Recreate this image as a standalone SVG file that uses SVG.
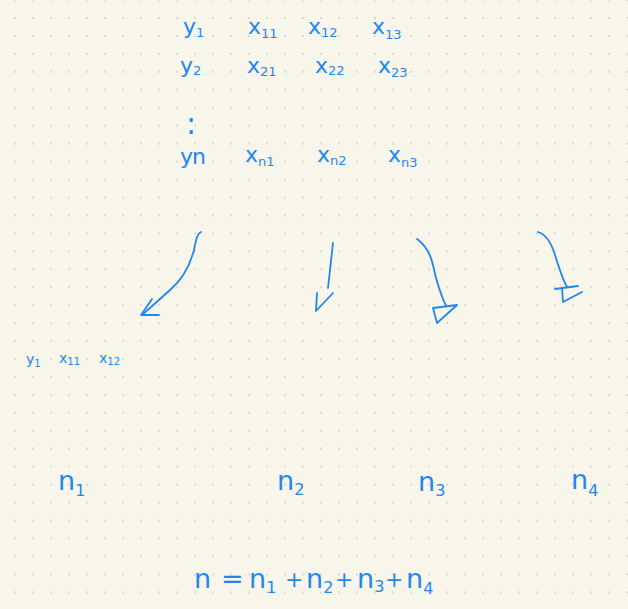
<svg xmlns="http://www.w3.org/2000/svg" width="628" height="609" viewBox="0 0 628 609">
<defs>
<pattern id="dots" x="6" y="-8.975" width="18" height="17.95" patternUnits="userSpaceOnUse">
<circle cx="9" cy="8.975" r="1" fill="#d3d1c8"/>
</pattern>
<style>
.t{font-family:"DejaVu Sans","Liberation Sans",sans-serif;fill:#1f87ee}
.m{font-size:22px}
.s{font-size:13px}
.sm{font-size:14px}
.ss{font-size:10px}
.b{font-size:27px}
.bs{font-size:16px}
.pl{font-size:22px}
.ink{fill:none;stroke:#1f87ee;stroke-width:1.8;stroke-linecap:round;stroke-linejoin:round}
</style>
</defs>
<rect width="628" height="609" fill="#f8f5ea"/>
<rect width="628" height="609" fill="url(#dots)"/>

<g id="table">
<text class="t m" x="183" y="34">y<tspan class="s" dy="3">1</tspan></text>
<text class="t m" x="248" y="34">x<tspan class="s" dy="4">11</tspan></text>
<text class="t m" x="308" y="34">x<tspan class="s" dy="3">12</tspan></text>
<text class="t m" x="372" y="34">x<tspan class="s" dy="5">13</tspan></text>

<text class="t m" x="180" y="73">y<tspan class="s" dy="2">2</tspan></text>
<text class="t m" x="247" y="73">x<tspan class="s" dy="3">21</tspan></text>
<text class="t m" x="315" y="73">x<tspan class="s" dy="2">22</tspan></text>
<text class="t m" x="378" y="73">x<tspan class="s" dy="4">23</tspan></text>

<text class="t" style="font-size:30px" x="186" y="134">:</text>

<text class="t m" x="180" y="164">y<tspan dx="-1">n</tspan></text>
<text class="t m" x="245" y="162">x<tspan class="s" dy="4">n1</tspan></text>
<text class="t m" x="317" y="162">x<tspan class="s" dy="3">n2</tspan></text>
<text class="t m" x="388" y="162">x<tspan class="s" dy="5">n3</tspan></text>
</g>

<g id="connectors">
<path class="ink" d="M201,232 C197,234 196,240 194,250 C190,265 182,280 170,290 C160,299 150,308 142,315"/>
<path class="ink" d="M152,299 L141,315 L159,315"/>
<path class="ink" d="M333,243 L328,288"/>
<path class="ink" d="M317,293 L316,311 L333,293"/>
<path class="ink" d="M417,239 C424,244 430,252 433,265 C436,280 441,295 446,306"/>
<path class="ink" d="M433,308 L457,305 L437,323 L433,308"/>
<path class="ink" d="M538,232 C545,234 551,242 555,255 C559,268 563,280 567,287"/>
<path class="ink" d="M555,289 L578,286"/>
<path class="ink" d="M562,288 L563,302 L582,292"/>
</g>

<g id="sample">
<text class="t sm" x="26" y="364">y<tspan class="ss" dy="3">1</tspan></text>
<text class="t sm" x="59" y="363">x<tspan class="ss" dy="2">11</tspan></text>
<text class="t sm" x="99" y="363">x<tspan class="ss" dy="2">12</tspan></text>
</g>

<g id="counts">
<text class="t b" x="58" y="490">n<tspan class="bs" dy="6">1</tspan></text>
<text class="t b" x="277" y="490">n<tspan class="bs" dy="5">2</tspan></text>
<text class="t b" x="418" y="491">n<tspan class="bs" dy="5">3</tspan></text>
<text class="t b" x="571" y="489">n<tspan class="bs" dy="7">4</tspan></text>
</g>

<g id="equation">
<text class="t b" x="194" y="588">n</text>
<text class="t b" x="221" y="588">=</text>
<text class="t b" x="249" y="588">n<tspan class="bs" dy="5">1</tspan></text>
<text class="t pl" x="285" y="587">+</text>
<text class="t b" x="306" y="588">n<tspan class="bs" dy="5">2</tspan></text>
<text class="t pl" x="335" y="587">+</text>
<text class="t b" x="357" y="588">n<tspan class="bs" dy="4">3</tspan></text>
<text class="t pl" x="385" y="587">+</text>
<text class="t b" x="406" y="588">n<tspan class="bs" dy="6">4</tspan></text>
</g>
</svg>
